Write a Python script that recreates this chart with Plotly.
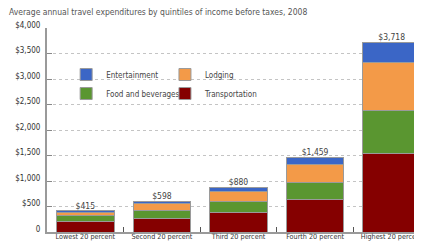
import plotly.graph_objects as go

categories = ["Lowest 20 percent", "Second 20 percent", "Third 20 percent",
              "Fourth 20 percent", "Highest 20 percent"]
transportation = [205, 266, 388, 630, 1546]
food_bev = [120, 153, 208, 340, 840]
lodging = [60, 133, 205, 345, 937]
entertainment = [30, 46, 79, 144, 395]
totals = [415, 598, 880, 1459, 3718]
total_labels = ["$415", "$598", "$880", "$1,459", "$3,718"]
y_ticks = [0, 500, 1000, 1500, 2000, 2500, 3000, 3500, 4000]
y_tick_labels = ["0", "$500", "$1,000", "$1,500", "$2,000", "$2,500",
                 "$3,000", "$3,500", "$4,000"]
title_text = "Average annual travel expenditures by quintiles of income before taxes, 2008"

FONT = "Liberation Sans Narrow, DejaVu Sans Condensed, Arial Narrow, sans-serif"
outline = dict(color="#9a9a9a", width=1)
bw = 0.75

fig = go.Figure()
fig.add_trace(go.Bar(x=categories, y=transportation, name="Transportation",
                     marker=dict(color="#850000", line=outline), width=bw,
                     legend="legend2", legendrank=2))
fig.add_trace(go.Bar(x=categories, y=food_bev, name="Food and beverages",
                     marker=dict(color="#5a9630", line=outline), width=bw,
                     legend="legend", legendrank=2))
fig.add_trace(go.Bar(x=categories, y=lodging, name="Lodging",
                     marker=dict(color="#f39a48", line=outline), width=bw,
                     legend="legend2", legendrank=1))
fig.add_trace(go.Bar(x=categories, y=entertainment, name="Entertainment",
                     marker=dict(color="#3b66c6", line=outline), width=bw,
                     legend="legend", legendrank=1))
fig.add_trace(go.Scatter(x=categories, y=totals, text=total_labels, mode="text",
                         textposition="top center", showlegend=False,
                         textfont=dict(family=FONT, size=8.5, color="#444"),
                         cliponaxis=False, hoverinfo="skip"))

legend_common = dict(orientation="v", xanchor="left", yanchor="top",
                     bgcolor="rgba(0,0,0,0)", font=dict(family=FONT, size=8, color="#444"),
                     traceorder="normal", itemwidth=30, tracegroupgap=0)

fig.update_layout(
    width=422, height=243,
    margin=dict(l=39, r=0, t=20, b=19),
    barmode="stack",
    paper_bgcolor="white", plot_bgcolor="white",
    font=dict(family=FONT, size=8, color="#444"),
    legend=dict(x=0.05, y=0.843, **legend_common),
    legend2=dict(x=0.308, y=0.843, **legend_common),
    xaxis=dict(range=[-0.5, 4.5], tickson="boundaries", ticks="inside",
               ticklen=5, tickcolor="#555", tickwidth=1, tickangle=0,
               showline=True, linecolor="#9a9a9a", linewidth=2,
               showgrid=False, automargin=False, ticklabelstandoff=-4,
               tickfont=dict(family=FONT, size=7.2, color="#333")),
    yaxis=dict(range=[0, 4000], tickvals=y_ticks, ticktext=y_tick_labels,
               ticks="inside", ticklen=5, tickcolor="#888", tickwidth=1,
               showline=True, linecolor="#9a9a9a", linewidth=2,
               showgrid=True, gridcolor="#c4c4c4", griddash="3px,3px", gridwidth=1,
               zeroline=False, ticklabelstandoff=3, ticklabelshift=-3,
               automargin=False,
               tickfont=dict(family=FONT, size=8, color="#333")),
)
fig.add_annotation(text=title_text, xref="paper", yref="paper",
                   x=-40 / 383, y=1 + 16 / 205, xanchor="left", yanchor="middle",
                   showarrow=False, font=dict(family=FONT, size=8.5, color="#555"))

fig.write_html("out.html")
